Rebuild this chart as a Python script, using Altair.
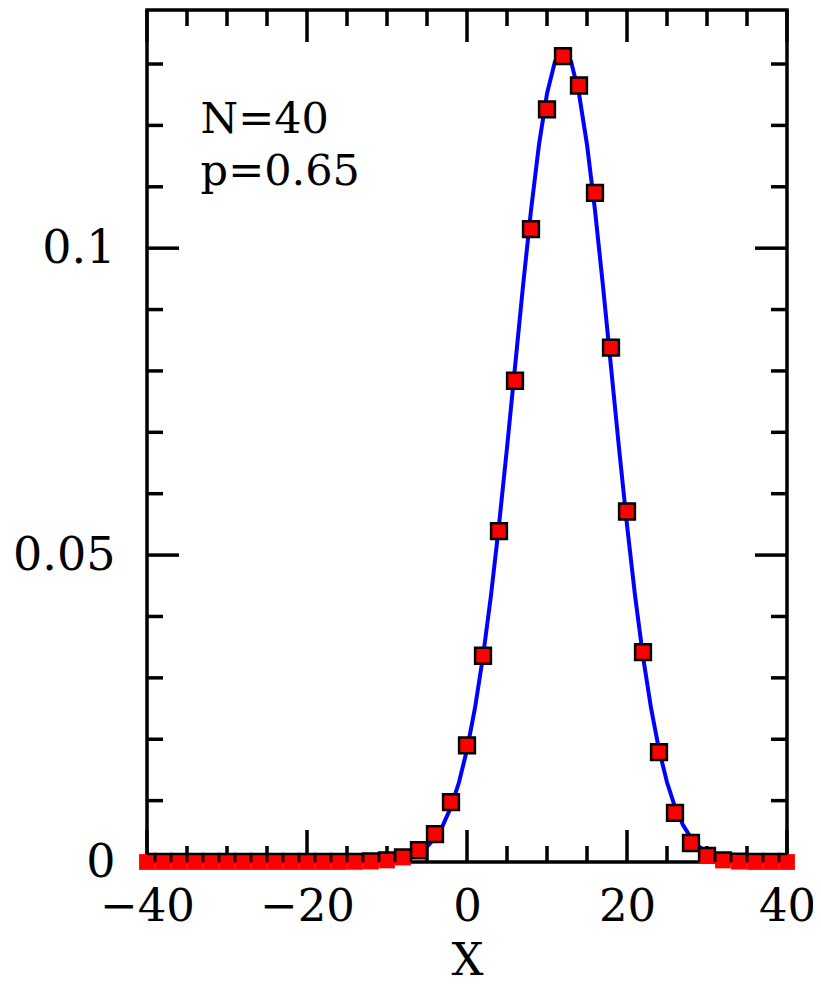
import altair as alt
import pandas as pd

FONT = "DejaVu Serif"

# ---- data ----
x_pts = [-40, -38, -36, -34, -32, -30, -28, -26, -24, -22, -20, -18, -16,
         -14, -12, -10, -8, -6, -4, -2, 0, 2, 4, 6, 8, 10, 12, 14, 16, 18,
         20, 22, 24, 26, 28, 30, 32, 34, 36, 38, 40]
p_pts = [0, 0, 0, 0, 0, 0, 0, 0, 0, 0, 0, 0, 0,
         0.00002, 0.00008, 0.00025, 0.00073, 0.00191, 0.00453, 0.00975,
         0.0190, 0.0336, 0.0539, 0.0784, 0.1031, 0.1226, 0.1313, 0.1265,
         0.1090, 0.0838, 0.0571, 0.0342, 0.0179, 0.0080, 0.0031, 0.00098,
         0.00025, 0.00005, 0, 0, 0]

x_curve = [-40, -20, -14, -13, -12, -11, -10, -9, -8, -7, -6, -5, -4, -3, -2,
           -1, 0, 1, 2, 3, 4, 5, 6, 7, 8, 9, 10, 11, 12, 13, 14, 15, 16, 17,
           18, 19, 20, 21, 22, 23, 24, 25, 26, 27, 28, 29, 30, 31, 32, 33, 34,
           35, 36, 37, 38, 40]
y_curve = [0, 0, 0.00001, 0.00002, 0.00005, 0.00009, 0.00017, 0.00031,
           0.00054, 0.00093, 0.00154, 0.00250, 0.00393, 0.00601, 0.00896,
           0.01298, 0.01830, 0.02509, 0.03348, 0.04347, 0.05490, 0.06746,
           0.08065, 0.09381, 0.10616, 0.11687, 0.12518, 0.13045, 0.13225,
           0.13045, 0.12518, 0.11687, 0.10616, 0.09381, 0.08065, 0.06746,
           0.05490, 0.04347, 0.03348, 0.02509, 0.01830, 0.01298, 0.00896,
           0.00601, 0.00393, 0.00250, 0.00154, 0.00093, 0.00054, 0.00031,
           0.00017, 0.00009, 0.00005, 0.00002, 0.00001, 0]

x_major = [-40, -20, 0, 20, 40]
x_minor = [-35, -30, -25, -15, -10, -5, 5, 10, 15, 25, 30, 35]
y_major = [0, 0.05, 0.1]
y_minor = [0.01, 0.02, 0.03, 0.04, 0.06, 0.07, 0.08, 0.09, 0.11, 0.12, 0.13]

labels_txt = ["N=40", "p=0.65"]
labels_x = [-33.3, -33.3]
labels_y = [0.1187, 0.1103]

# ---- chart ----
W, H = 640, 852
MAJ, MIN = 32, 16
TW = 3.5

xs = alt.Scale(domain=[-40, 40], nice=False, zero=False)
ys = alt.Scale(domain=[0, 0.1388], nice=False, zero=False)

x_axis = alt.Axis(values=x_major, format="d", ticks=False, tickSize=0,
                  domain=False, grid=False, labelFont=FONT, labelFontSize=45,
                  labelPadding=22, labelColor="black", labelFlush=False,
                  labelOverlap=False, title="X", titleFont=FONT,
                  titleFontSize=45, titleFontWeight="normal",
                  titleColor="black", titleY=112, titleBaseline="alphabetic")
y_axis = alt.Axis(values=y_major, format="~g", ticks=False, tickSize=0,
                  domain=False, grid=False, labelFont=FONT, labelFontSize=46,
                  labelPadding=32, labelColor="black", labelFlush=False,
                  labelOverlap=False, title="")


def X():
    return alt.X("x:Q", scale=xs, axis=x_axis)


def Y():
    return alt.Y("y:Q", scale=ys, axis=y_axis)


pts = pd.DataFrame({"x": x_pts, "y": p_pts})
curve = pd.DataFrame({"x": x_curve, "y": y_curve})
xmaj = pd.DataFrame({"x": x_major})
xmin = pd.DataFrame({"x": x_minor})
ymaj = pd.DataFrame({"y": y_major})
ymin = pd.DataFrame({"y": y_minor})
txt = pd.DataFrame({"x": labels_x, "y": labels_y, "t": labels_txt})

line = alt.Chart(curve).mark_line(color="#0000ff", strokeWidth=4,
                                  clip=False).encode(x=X(), y=Y())

rule = dict(color="black", strokeWidth=TW)
tick_layers = [
    alt.Chart(xmaj).mark_rule(**rule).encode(x=X(), y=alt.value(H), y2=alt.value(H - MAJ)),
    alt.Chart(xmaj).mark_rule(**rule).encode(x=X(), y=alt.value(0), y2=alt.value(MAJ)),
    alt.Chart(xmin).mark_rule(**rule).encode(x=X(), y=alt.value(H), y2=alt.value(H - MIN)),
    alt.Chart(xmin).mark_rule(**rule).encode(x=X(), y=alt.value(0), y2=alt.value(MIN)),
    alt.Chart(ymaj).mark_rule(**rule).encode(y=Y(), x=alt.value(0), x2=alt.value(MAJ)),
    alt.Chart(ymaj).mark_rule(**rule).encode(y=Y(), x=alt.value(W), x2=alt.value(W - MAJ)),
    alt.Chart(ymin).mark_rule(**rule).encode(y=Y(), x=alt.value(0), x2=alt.value(MIN)),
    alt.Chart(ymin).mark_rule(**rule).encode(y=Y(), x=alt.value(W), x2=alt.value(W - MIN)),
]

fill = alt.Chart(pts).mark_point(shape="square", filled=True, color="#ff0000",
                                 size=250, opacity=1, strokeWidth=0,
                                 clip=False).encode(x=X(), y=Y())
edge = alt.Chart(pts).mark_point(shape="square", filled=False, color="black",
                                 size=250, opacity=1, strokeWidth=2.5,
                                 clip=True).encode(x=X(), y=Y())

text = alt.Chart(txt).mark_text(align="left", baseline="alphabetic", font=FONT,
                                fontSize=43, color="black").encode(
    x=X(), y=Y(), text="t:N")

chart = alt.layer(line, *tick_layers, fill, edge, text).properties(
    width=W, height=H,
    padding={"left": 139, "top": 2, "right": 26, "bottom": 114},
    autosize="none",
    background="white",
).configure_view(stroke="black", strokeWidth=3.5)

chart.save("out.html", embed_options={"renderer": "svg", "actions": False})
